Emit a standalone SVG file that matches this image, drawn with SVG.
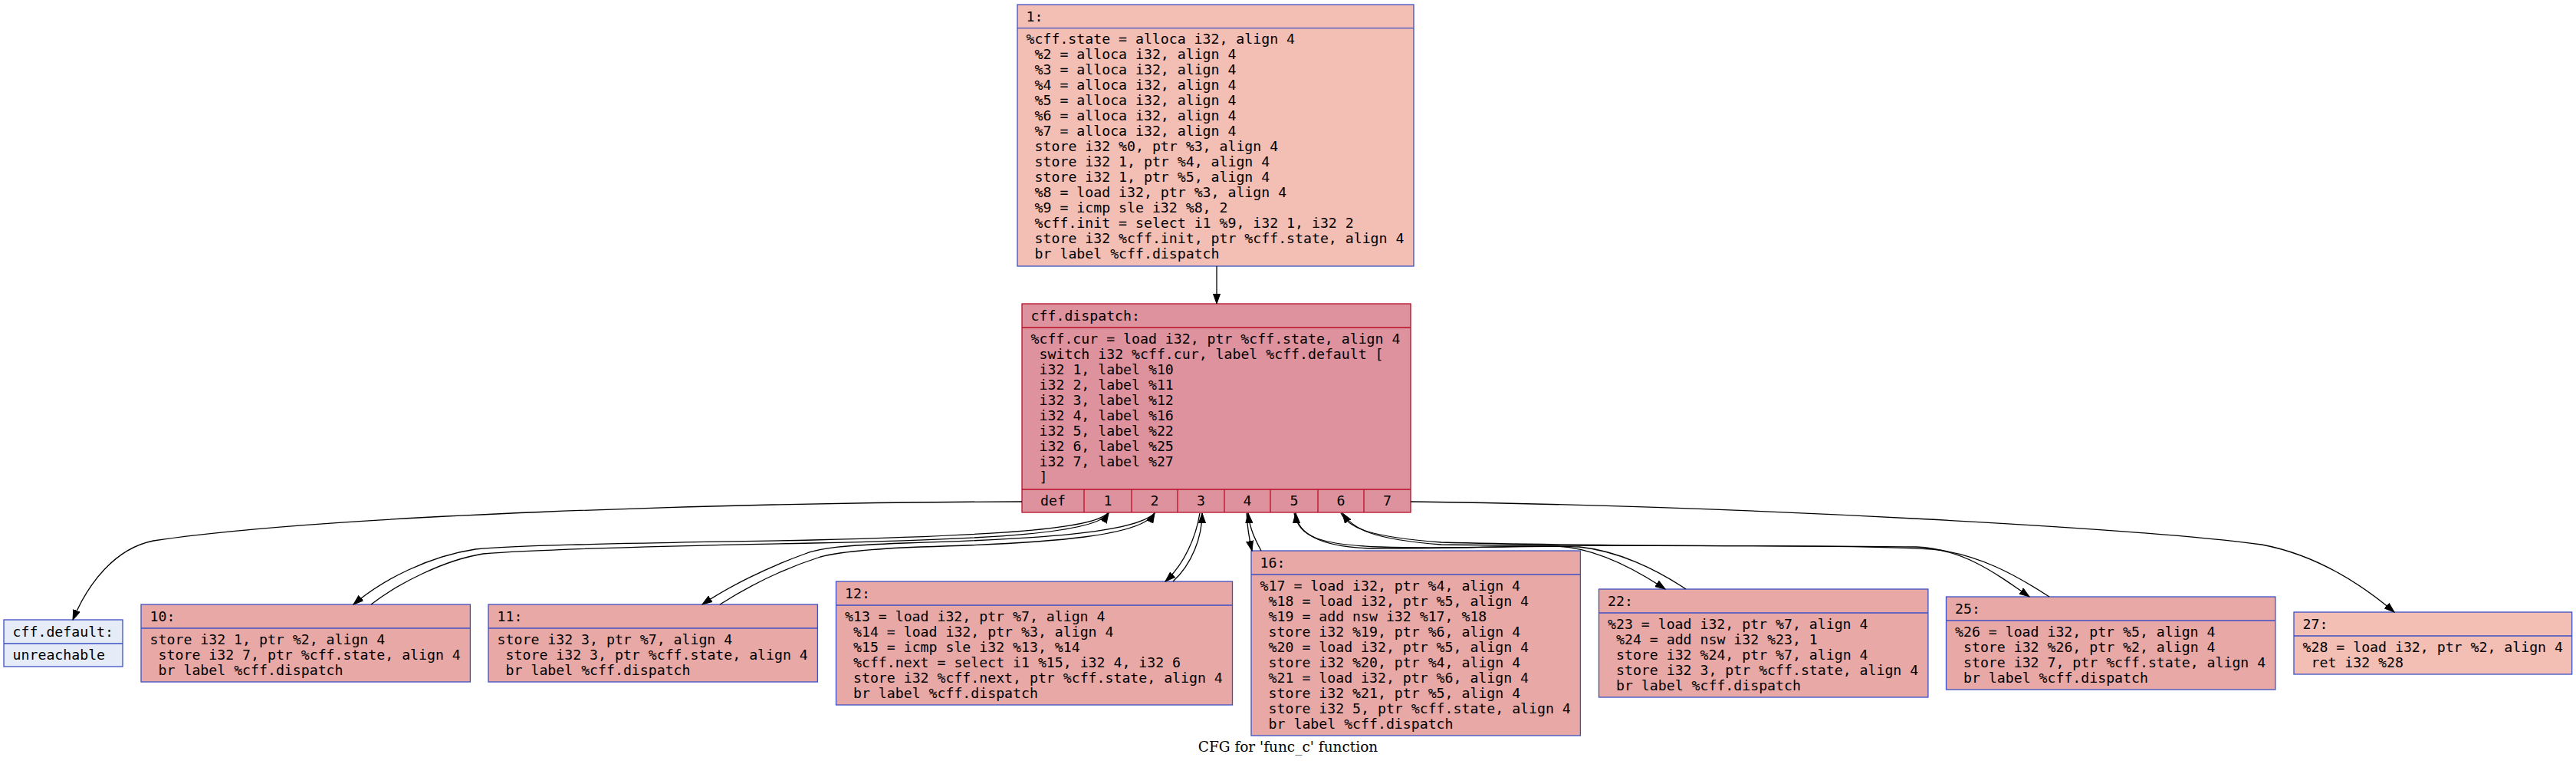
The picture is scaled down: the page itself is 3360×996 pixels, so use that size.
<svg xmlns="http://www.w3.org/2000/svg" width="3360" height="996" viewBox="0 0 3360 996">
<style>
.t{font-family:"DejaVu Sans Mono",monospace;font-size:18.2px;fill:#000}
.c{font-family:"DejaVu Serif","Liberation Serif",serif;font-size:18.5px;fill:#000}
.b{stroke:#3d50c3;stroke-width:1.3}
.r{stroke:#b70d28;stroke-width:1.3}
.hot{fill:#e8a9a6}
.warm{fill:#f3beb3}
.cold{fill:#e5ecf8}
.disp{fill:#de929d}
.e{fill:none;stroke:#000;stroke-width:1.3;marker-end:url(#ah)}
</style>
<defs>
<marker id="ah" markerUnits="userSpaceOnUse" markerWidth="14" markerHeight="10" viewBox="0 0 14 10" refX="13" refY="5" orient="auto"><path d="M0,0.45 L13,5 L0,9.55 z" fill="#000" stroke="#000" stroke-width="1"/></marker>
</defs>
<rect width="3360" height="996" fill="#fff"/>

<g id="node1">
<rect x="1327" y="6" width="517" height="341" class="warm b"/>
<line x1="1327" y1="36.7" x2="1844" y2="36.7" class="b"/>
<text class="t"><tspan x="1338.6" y="27.5">1:</tspan>
<tspan x="1338.6" y="57">%cff.state = alloca i32, align 4</tspan>
<tspan x="1349.6" y="77">%2 = alloca i32, align 4</tspan>
<tspan x="1349.6" y="97">%3 = alloca i32, align 4</tspan>
<tspan x="1349.6" y="117">%4 = alloca i32, align 4</tspan>
<tspan x="1349.6" y="137">%5 = alloca i32, align 4</tspan>
<tspan x="1349.6" y="157">%6 = alloca i32, align 4</tspan>
<tspan x="1349.6" y="177">%7 = alloca i32, align 4</tspan>
<tspan x="1349.6" y="197">store i32 %0, ptr %3, align 4</tspan>
<tspan x="1349.6" y="217">store i32 1, ptr %4, align 4</tspan>
<tspan x="1349.6" y="237">store i32 1, ptr %5, align 4</tspan>
<tspan x="1349.6" y="257">%8 = load i32, ptr %3, align 4</tspan>
<tspan x="1349.6" y="277">%9 = icmp sle i32 %8, 2</tspan>
<tspan x="1349.6" y="297">%cff.init = select i1 %9, i32 1, i32 2</tspan>
<tspan x="1349.6" y="317">store i32 %cff.init, ptr %cff.state, align 4</tspan>
<tspan x="1349.6" y="337">br label %cff.dispatch</tspan></text>
</g>

<g id="dispatch">
<rect x="1333" y="396" width="507" height="272" class="disp r"/>
<line x1="1333" y1="427" x2="1840" y2="427" class="r"/>
<line x1="1333" y1="638" x2="1840" y2="638" class="r"/>
<path d="M1414,638V668M1476,638V668M1536,638V668M1597,638V668M1657,638V668M1719,638V668M1779,638V668" class="r"/>
<text class="t"><tspan x="1344.6" y="417.5">cff.dispatch:</tspan>
<tspan x="1344.6" y="447.5">%cff.cur = load i32, ptr %cff.state, align 4</tspan>
<tspan x="1355.6" y="467.5">switch i32 %cff.cur, label %cff.default [</tspan>
<tspan x="1355.6" y="487.5">i32 1, label %10</tspan>
<tspan x="1355.6" y="507.5">i32 2, label %11</tspan>
<tspan x="1355.6" y="527.5">i32 3, label %12</tspan>
<tspan x="1355.6" y="547.5">i32 4, label %16</tspan>
<tspan x="1355.6" y="567.5">i32 5, label %22</tspan>
<tspan x="1355.6" y="587.5">i32 6, label %25</tspan>
<tspan x="1355.6" y="607.5">i32 7, label %27</tspan>
<tspan x="1355.6" y="627.5">]</tspan></text>
<text class="t" text-anchor="middle" y="659"><tspan x="1373.5">def</tspan><tspan x="1445">1</tspan><tspan x="1506">2</tspan><tspan x="1566.5">3</tspan><tspan x="1627">4</tspan><tspan x="1688">5</tspan><tspan x="1749">6</tspan><tspan x="1809.5">7</tspan></text>
</g>

<g id="cffdefault">
<rect x="5" y="808" width="155" height="61" class="cold b"/>
<line x1="5" y1="839" x2="160" y2="839" class="b"/>
<text class="t"><tspan x="16.6" y="829.5">cff.default:</tspan><tspan x="16.6" y="859.5">unreachable</tspan></text>
</g>

<g id="node10">
<rect x="184" y="788" width="429.4" height="101" class="hot b"/>
<line x1="184" y1="819" x2="613.4" y2="819" class="b"/>
<text class="t"><tspan x="195.6" y="809.5">10:</tspan>
<tspan x="195.6" y="839.5">store i32 1, ptr %2, align 4</tspan>
<tspan x="206.6" y="859.5">store i32 7, ptr %cff.state, align 4</tspan>
<tspan x="206.6" y="879.5">br label %cff.dispatch</tspan></text>
</g>

<g id="node11">
<rect x="637" y="788" width="429.4" height="101" class="hot b"/>
<line x1="637" y1="819" x2="1066.4" y2="819" class="b"/>
<text class="t"><tspan x="648.6" y="809.5">11:</tspan>
<tspan x="648.6" y="839.5">store i32 3, ptr %7, align 4</tspan>
<tspan x="659.6" y="859.5">store i32 3, ptr %cff.state, align 4</tspan>
<tspan x="659.6" y="879.5">br label %cff.dispatch</tspan></text>
</g>

<g id="node12">
<rect x="1090.5" y="758" width="517" height="161" class="hot b"/>
<line x1="1090.5" y1="789" x2="1607.5" y2="789" class="b"/>
<text class="t"><tspan x="1102" y="779.5">12:</tspan>
<tspan x="1102" y="809.5">%13 = load i32, ptr %7, align 4</tspan>
<tspan x="1113" y="829.5">%14 = load i32, ptr %3, align 4</tspan>
<tspan x="1113" y="849.5">%15 = icmp sle i32 %13, %14</tspan>
<tspan x="1113" y="869.5">%cff.next = select i1 %15, i32 4, i32 6</tspan>
<tspan x="1113" y="889.5">store i32 %cff.next, ptr %cff.state, align 4</tspan>
<tspan x="1113" y="909.5">br label %cff.dispatch</tspan></text>
</g>

<g id="node16">
<rect x="1632" y="718" width="429.4" height="241" class="hot b"/>
<line x1="1632" y1="749" x2="2061.4" y2="749" class="b"/>
<text class="t"><tspan x="1643.6" y="739.5">16:</tspan>
<tspan x="1643.6" y="769.5">%17 = load i32, ptr %4, align 4</tspan>
<tspan x="1654.6" y="789.5">%18 = load i32, ptr %5, align 4</tspan>
<tspan x="1654.6" y="809.5">%19 = add nsw i32 %17, %18</tspan>
<tspan x="1654.6" y="829.5">store i32 %19, ptr %6, align 4</tspan>
<tspan x="1654.6" y="849.5">%20 = load i32, ptr %5, align 4</tspan>
<tspan x="1654.6" y="869.5">store i32 %20, ptr %4, align 4</tspan>
<tspan x="1654.6" y="889.5">%21 = load i32, ptr %6, align 4</tspan>
<tspan x="1654.6" y="909.5">store i32 %21, ptr %5, align 4</tspan>
<tspan x="1654.6" y="929.5">store i32 5, ptr %cff.state, align 4</tspan>
<tspan x="1654.6" y="949.5">br label %cff.dispatch</tspan></text>
</g>

<g id="node22">
<rect x="2085.5" y="768" width="429.4" height="141" class="hot b"/>
<line x1="2085.5" y1="799" x2="2514.9" y2="799" class="b"/>
<text class="t"><tspan x="2097" y="789.5">22:</tspan>
<tspan x="2097" y="819.5">%23 = load i32, ptr %7, align 4</tspan>
<tspan x="2108" y="839.5">%24 = add nsw i32 %23, 1</tspan>
<tspan x="2108" y="859.5">store i32 %24, ptr %7, align 4</tspan>
<tspan x="2108" y="879.5">store i32 3, ptr %cff.state, align 4</tspan>
<tspan x="2108" y="899.5">br label %cff.dispatch</tspan></text>
</g>

<g id="node25">
<rect x="2538.5" y="778" width="429.4" height="121" class="hot b"/>
<line x1="2538.5" y1="809" x2="2967.9" y2="809" class="b"/>
<text class="t"><tspan x="2550" y="799.5">25:</tspan>
<tspan x="2550" y="829.5">%26 = load i32, ptr %5, align 4</tspan>
<tspan x="2561" y="849.5">store i32 %26, ptr %2, align 4</tspan>
<tspan x="2561" y="869.5">store i32 7, ptr %cff.state, align 4</tspan>
<tspan x="2561" y="889.5">br label %cff.dispatch</tspan></text>
</g>

<g id="node27">
<rect x="2992" y="798" width="362.7" height="81" class="warm b"/>
<line x1="2992" y1="829" x2="3354.7" y2="829" class="b"/>
<text class="t"><tspan x="3003.5" y="819.5">27:</tspan>
<tspan x="3003.5" y="849.5">%28 = load i32, ptr %2, align 4</tspan>
<tspan x="3014.5" y="869.5">ret i32 %28</tspan></text>
</g>

<g id="edges">
<path class="e" d="M1587,347 L1587,396"/>
<path class="e" d="M1333,654 C950,655 420,672 200,705 C150,715 115,760 95,808"/>
<path class="e" d="M1840,654 C2300,660 2800,690 2950,710 C3030,725 3090,770 3123,798"/>
<path class="e" d="M1445,669 C1425,690 1300,698 1060,704 C850,708 680,710 620,716 C560,725 500,755 461,788"/>
<path class="e" d="M484,788 C520,760 580,730 630,722 C700,716 850,712 1060,708 C1300,703 1430,695 1446,669"/>
<path class="e" d="M1506,669 C1480,695 1350,703 1180,708 C1100,711 1070,714 1050,722 C1000,740 950,765 916,788"/>
<path class="e" d="M939,788 C975,765 1020,742 1070,726 C1100,718 1150,715 1200,713 C1380,708 1490,698 1506,669"/>
<path class="e" d="M1565,669 C1560,700 1545,735 1520,758"/>
<path class="e" d="M1530,758 C1555,735 1568,700 1568,669"/>
<path class="e" d="M1626,669 C1627,690 1630,705 1633,718"/>
<path class="e" d="M1645,718 C1638,705 1630,690 1628,669"/>
<path class="e" d="M1688,669 C1695,700 1720,710 1800,713 C1900,716 1990,711 2030,712 C2080,714 2130,740 2172,768"/>
<path class="e" d="M2199,768 C2160,742 2110,718 2060,713 C2000,710 1900,716 1790,715 C1720,713 1692,695 1690,669"/>
<path class="e" d="M1749,669 C1760,690 1790,700 1880,707 C2100,713 2400,711 2500,713 C2560,716 2600,745 2647,778"/>
<path class="e" d="M2673,778 C2630,750 2580,722 2520,716 C2400,709 2100,713 1880,710 C1790,703 1765,690 1751,669"/>
</g>

<text class="c" x="1680" y="980" text-anchor="middle">CFG for 'func_c' function</text>
</svg>
